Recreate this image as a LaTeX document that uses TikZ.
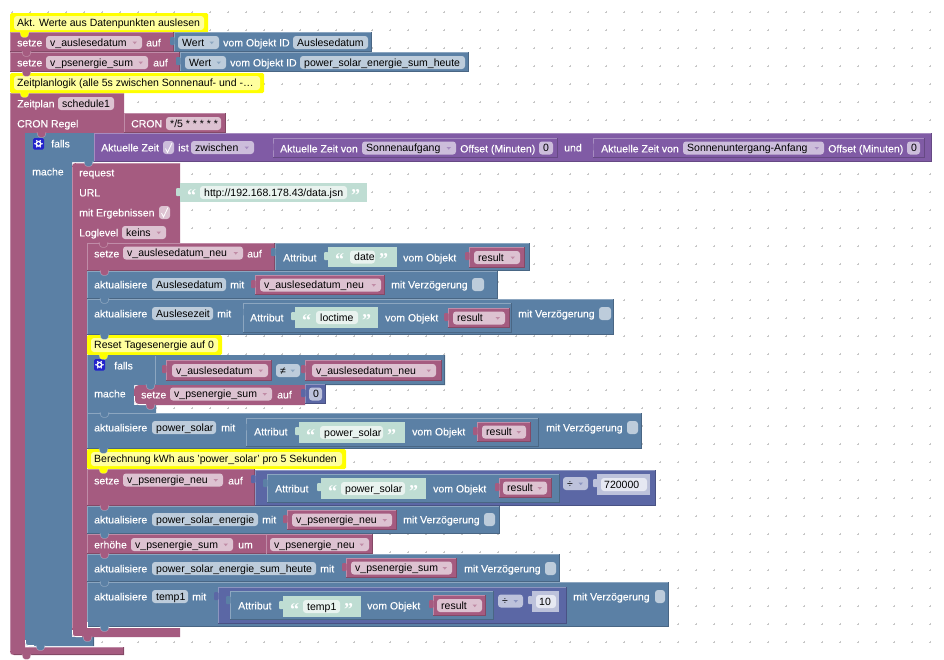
\documentclass[tikz,border=0pt]{standalone}
\usepackage{fontspec}
\setmainfont{Liberation Sans}
\newfontfamily\quotefont{Liberation Serif}
\newfontfamily\labelfont[FakeBold=0.12]{Liberation Sans}
% block families: M body, L light edge, D dark edge, F field
\definecolor{pkM}{HTML}{A55B80}\definecolor{pkL}{HTML}{C08CA8}\definecolor{pkD}{HTML}{844966}\definecolor{pkF}{HTML}{DDC2D1}
\definecolor{blM}{HTML}{5B80A5}\definecolor{blL}{HTML}{8CA6C0}\definecolor{blD}{HTML}{496684}\definecolor{blF}{HTML}{BDCCDB}
\definecolor{puM}{HTML}{805BA5}\definecolor{puL}{HTML}{A68CC0}\definecolor{puD}{HTML}{664984}\definecolor{puF}{HTML}{CCBDDB}
\definecolor{maM}{HTML}{5B67A5}\definecolor{maL}{HTML}{8C95C0}\definecolor{maD}{HTML}{495284}\definecolor{maF}{HTML}{BDC2DB}
\definecolor{mxF}{HTML}{E6E8F2}\definecolor{mxM}{HTML}{5B67A5}
\definecolor{teM}{HTML}{BFDDD3}\definecolor{teF}{HTML}{E9F3EF}
\definecolor{cmY}{HTML}{FFFF00}\definecolor{cmI}{HTML}{FFFF9E}
\definecolor{gearB}{HTML}{2222CC}
\tikzset{
  whitetext/.style={anchor=base west,inner sep=0pt,text=white,font=\labelfont\fontsize{10.5}{12}\selectfont},
  blacktext/.style={anchor=base west,inner sep=0pt,text=black,font=\fontsize{10.5}{12}\selectfont},
  quotemark/.style={anchor=base west,inner sep=0pt,text=white,font=\quotefont\bfseries\fontsize{18}{18}\selectfont}
}
% rectangular block with light top and left edges, dark right and bottom edges
\newcommand\bk[5]{%
  \fill[#5M] (#1,#2) rectangle (#3,#4);
  \draw[#5L,line width=.8pt] (#1+.4,#4) -- (#1+.4,#2+.4) -- (#3,#2+.4);
  \draw[#5D,line width=.8pt] (#3-.4,#2+.4) -- (#3-.4,#4-.4) -- (#1,#4-.4);}
% value block with a connection tab on its left side
\newcommand\vk[5]{%
  \bk{#1}{#2}{#3}{#4}{#5}%
  \fill[#5M,rounded corners=1pt] (#1+.5,#2+5) -- (#1-4,#2+5) -- (#1-4,#2+13) -- (#1+.5,#2+13) -- cycle;}
% number block: a pale shadow block around its field
\newcommand\nk[5]{%
  \fill[maF] (#1,#2) rectangle (#3,#4);
  \fill[maF,rounded corners=1pt] (#1+.5,#2+5) -- (#1-4,#2+5) -- (#1-4,#2+13) -- (#1+.5,#2+13) -- cycle;
  \fill[mxF,rounded corners=3pt] (#1+4,#2/2+#4/2-6.5) rectangle (#3-3,#2/2+#4/2+6.5);
  \node[blacktext] at (#1+7,#2/2+#4/2+3.8) {#5};}
% notch tab hanging from the bottom edge of a statement block
\newcommand\nt[3]{%
  \fill[#3] (#1,#2-.8) -- (#1+1,#2+3) -- (#1+3,#2+4.4) -- (#1+6,#2+4.4) -- (#1+8,#2+3) -- (#1+9,#2-.8) -- cycle;
  \draw[white,opacity=.3,line width=.6pt] (#1,#2-.8) -- (#1+1,#2+3) -- (#1+3,#2+4.4) -- (#1+6,#2+4.4) -- (#1+8,#2+3) -- (#1+9,#2-.8);}
\newcommand\wt[3]{\node[whitetext] at (#1,#2+4.4) {#3};}
% plain field
\newcommand\fd[5]{%
  \fill[#4F,rounded corners=3pt] (#1,#3-6.5) rectangle (#2,#3+6.5);
  \node[blacktext] at (#1+4,#3+3.8) {#5};}
% dropdown field with its small triangle
\newcommand\dd[5]{%
  \fd{#1}{#2}{#3}{#4}{#5}%
  \fill[#4M!70!white] (#2-9.5,#3-1) -- (#2-5,#3-1) -- (#2-7.25,#3+1.6) -- cycle;}
% checkbox field
\newcommand\cb[4]{\fill[#4F,rounded corners=3pt] (#1,#3-6.5) rectangle (#2,#3+6.5);}
\newcommand\ck[3]{\draw[white,line width=.8pt] (#1-3,#2+.5) -- (#1-1,#2+4.5) -- (#1+3.5,#2-5);}
% variable reference block
\newcommand\vr[7]{%
  \vk{#1}{#2}{#3}{#4}{pk}\dd{#5}{#6}{#2/2+#4/2}{pk}{#7}}
% text block with quotation marks
\newcommand\st[7]{%
  \fill[teM] (#1,#2) rectangle (#3,#4);
  \fill[teM,rounded corners=1pt] (#1+.5,#2+5) -- (#1-4,#2+5) -- (#1-4,#2+13) -- (#1+.5,#2+13) -- cycle;
  \fill[teF,rounded corners=3pt] (#5,#2/2+#4/2-6.5) rectangle (#6,#2/2+#4/2+6.5);
  \node[blacktext] at (#5+4,#2/2+#4/2+3.8) {#7};
  \node[quotemark] at (#1+7,#2/2+#4/2+8.5) {“};
  \node[quotemark] at (#6+4,#2/2+#4/2+8.5) {”};}
% comment bar
\newcommand\cm[5]{%
  \fill[cmY,rounded corners=1.5pt] (#1,#2) rectangle (#3,#4);
  \fill[cmI,rounded corners=3pt] (#1+4,#2+3) rectangle (#3-4,#4-3);
  \node[blacktext] at (#1+7,#2/2+#4/2+3.8) {#5};}
% mutator icon of a conditional block
\newcommand\gearicon[2]{%
  \fill[gearB,rounded corners=1.5pt] (#1,#2) rectangle (#1+11,#2+11.5);
  \foreach \a in {0,60,...,300}{\fill[white] (#1+5.5,#2+5.75) ++(\a:3.4pt) circle (.9pt);}
  \fill[white] (#1+5.5,#2+5.75) circle (3pt);
  \fill[gearB] (#1+5.5,#2+5.75) circle (1.7pt);}
\begin{document}
\begin{tikzpicture}[x=1pt,y=-1pt]
\useasboundingbox (0,0) rectangle (944,659);
\fill[white] (0,0) rectangle (944,659);

% workspace grid
\foreach \i in {0,...,51}{\foreach \j in {0,...,35}{%
  \draw[black!22,line width=.45pt] (12+18*\i-1.2,12+18*\j) -- ++(2.4,0) (12+18*\i,12+18*\j-1.2) -- ++(0,2.4);}}

% outer schedule block with its statement spine
\fill[pkM] (10,93) -- (124,93) -- (124,133) -- (25,133) -- (25,647) -- (124,647) -- (124,655)
  -- (14,655) .. controls (11,655) and (10,654) .. (10,651) -- cycle;
\draw[pkL,line width=.8pt] (10.4,651) -- (10.4,93.4) -- (124,93.4);
\draw[pkL,line width=.8pt] (25,647.4) -- (124,647.4);
\draw[pkD,line width=.8pt] (14,654.6) -- (123.6,654.6) -- (123.6,647);
\wt{17}{103}{Zeitplan}
\fd{58}{114}{103.5}{pk}{schedule1}
\wt{17}{123}{CRON Regel}
\bk{124}{113}{226}{133}{pk}
\wt{131}{123}{CRON}
\fd{166}{221}{123.5}{pk}{*/5 * * * * *}

% conditional on the current time
\fill[blM] (25,133) -- (94,133) -- (94,162) -- (72,162) -- (72,637) -- (94,637) -- (94,646)
  -- (29,646) .. controls (26,646) and (25,645) .. (25,642) -- cycle;
\draw[white,line width=.8pt] (25.4,640) -- (25.4,642) .. controls (25.4,645) and (26,645.6) .. (29,645.6) -- (34,645.6);
\draw[blD,line width=.8pt] (93.6,637) -- (93.6,646);
\gearicon{33}{138}
\wt{51}{143}{falls}
\wt{32}{171}{mache}
\bk{94}{133}{932}{162}{pu}
\wt{101}{147}{Aktuelle Zeit}
\fill[puF,rounded corners=3pt] (163,141) rectangle (174,154);
\ck{168.5}{148}{pu}
\wt{178}{147}{ist}
\dd{191}{254}{147.5}{pu}{zwischen}
\vk{273}{138}{558}{158}{pu}
\wt{280}{148}{Aktuelle Zeit von}
\dd{362}{456}{148}{pu}{Sonnenaufgang}
\wt{460}{148}{Offset (Minuten)}
\fd{539}{553}{148}{pu}{0}
\wt{564}{147}{und}
\vk{593}{138}{925}{158}{pu}
\wt{601}{148}{Aktuelle Zeit von}
\dd{683}{824}{148}{pu}{Sonnenuntergang-Anfang}
\wt{828}{148}{Offset (Minuten)}
\fd{907}{920}{148}{pu}{0}

% HTTP request block
\fill[pkM] (76,163) -- (180,163) -- (180,243) -- (87,243) -- (87,628) -- (180,628) -- (180,637)
  -- (76,637) .. controls (73,637) and (72,636) .. (72,633) -- (72,167) .. controls (72,164) and (73,163) .. (76,163) -- cycle;
\draw[pkL,line width=.8pt] (72.4,167) -- (72.4,628);
\draw[pkL,line width=.8pt] (76,163.4) -- (180,163.4);
\draw[white,line width=.8pt] (72.4,630) -- (72.4,633) .. controls (72.4,636) and (73,636.6) .. (76,636.6) -- (82,636.6);
\wt{79}{172}{request}
\wt{79}{192}{URL}
\wt{79}{212}{mit Ergebnissen}
\fill[pkF,rounded corners=3pt] (159,206) rectangle (170,219);
\ck{164.5}{212.5}{pk}
\wt{79}{232}{Loglevel}
\dd{122}{166}{232.5}{pk}{keins}
\st{180}{183}{367}{202}{200}{347}{http://192.168.178.43/data.jsn}

% new read-out date
\bk{87}{243}{275}{271}{pk}
\wt{94}{253}{setze}
\dd{123}{243}{253}{pk}{v\_auslesedatum\_neu}
\wt{247}{253}{auf}
\vk{275}{243}{530}{271}{bl}
\wt{283}{257}{Attribut}
\st{328}{247}{397}{267}{350}{375}{date}
\wt{403}{257}{vom Objekt}
\vr{469}{247}{525}{268}{474}{520}{result}

% update read-out date
\bk{87}{271}{498}{299}{bl}
\wt{94}{284}{aktualisiere}
\fd{152}{226}{284.5}{bl}{Auslesedatum}
\wt{230}{284}{mit}
\vr{255}{275}{385}{295}{260}{381}{v\_auslesedatum\_neu}
\wt{391}{284}{mit Verzögerung}
\cb{472}{484}{284.5}{bl}

% update read-out time
\bk{87}{299}{614}{335}{bl}
\wt{94}{313}{aktualisiere}
\fd{152}{213}{313.5}{bl}{Auslesezeit}
\wt{217}{313}{mit}
\vk{243}{303}{512}{333}{bl}
\wt{250}{317}{Attribut}
\st{295}{307}{378}{328}{316}{358}{loctime}
\wt{385}{317}{vom Objekt}
\vr{448}{308}{510}{328}{453}{505}{result}
\wt{518}{313}{mit Verzögerung}
\cb{599}{611}{313.5}{bl}

\cm{87}{335}{222}{355}{Reset Tagesenergie auf 0}

% daily energy reset
\fill[blM] (87,355) -- (445,355) -- (445,385) -- (134,385) -- (134,405) -- (156,405) -- (156,413) -- (87,413) -- cycle;
\draw[blL,line width=.8pt] (87.4,355) -- (87.4,413);
\draw[blD,line width=.8pt] (444.6,355) -- (444.6,384.6) -- (326,384.6);
\gearicon{94}{359}
\wt{114}{365}{falls}
\wt{94}{393}{mache}
\draw[blL,line width=.6pt] (155.5,356) -- (155.5,384);
\vr{166}{360}{272}{381}{172}{268}{v\_auslesedatum}
\fill[blF,rounded corners=3pt] (276,364) rectangle (300,377);
\node[blacktext] at (280,374.3) {≠};
\fill[blM!70!white] (290.5,369.5) -- (295,369.5) -- (292.75,372.1) -- cycle;
\vr{305}{360}{442}{381}{312}{436}{v\_auslesedatum\_neu}
\fill[pkM] (139,385) -- (305,385) -- (305,405) -- (139,405) .. controls (136,405) and (134,403) .. (134,400)
  -- (134,390) .. controls (134,387) and (136,385) .. (139,385) -- cycle;
\draw[white,line width=.8pt] (134.4,396) -- (134.4,400) .. controls (134.4,403) and (136,404.6) .. (139,404.6) -- (146,404.6);
\wt{141}{394}{setze}
\dd{170}{272}{394}{pk}{v\_psenergie\_sum}
\wt{277}{394}{auf}
\vk{305}{384}{326}{404}{ma}
\fd{309}{322}{394}{ma}{0}

% update power reading
\bk{87}{413}{642}{449}{bl}
\wt{94}{427}{aktualisiere}
\fd{152}{216}{427.5}{bl}{power\_solar}
\wt{221}{427}{mit}
\vk{246}{418}{539}{447}{bl}
\wt{254}{431}{Attribut}
\st{299}{422}{405}{443}{320}{383}{power\_solar}
\wt{412}{431}{vom Objekt}
\vr{477}{422}{531}{442}{482}{526}{result}
\wt{546}{427}{mit Verzögerung}
\cb{627}{638}{427.5}{bl}

\cm{87}{449}{346}{469}{Berechnung kWh aus 'power\_solar' pro 5 Sekunden}

% energy per interval
\bk{87}{469}{255}{506}{pk}
\wt{94}{480}{setze}
\dd{123}{223}{480}{pk}{v\_psenergie\_neu}
\wt{228}{480}{auf}
\vk{255}{470}{656}{506}{ma}
\vk{267}{474}{560}{503}{bl}
\wt{275}{488}{Attribut}
\st{321}{478}{426}{499}{341}{405}{power\_solar}
\wt{433}{488}{vom Objekt}
\vr{499}{478}{552}{498}{503}{547}{result}
\dd{563}{588}{483.5}{ma}{÷}
\nk{597}{474}{650}{495}{720000}

\bk{87}{506}{500}{534}{bl}
\wt{94}{519}{aktualisiere}
\fd{152}{258}{519.5}{bl}{power\_solar\_energie}
\wt{262}{519}{mit}
\vr{287}{510}{397}{530}{292}{392}{v\_psenergie\_neu}
\wt{403}{519}{mit Verzögerung}
\cb{484}{495}{519.5}{bl}

\bk{87}{534}{373}{554}{pk}
\wt{94}{544}{erhöhe}
\dd{131}{233}{544.5}{pk}{v\_psenergie\_sum}
\wt{238}{544}{um}
\draw[pkL,line width=.6pt] (266,534) -- (266,554);
\dd{270}{369}{544.5}{pk}{v\_psenergie\_neu}

\bk{87}{554}{560}{582}{bl}
\wt{94}{568}{aktualisiere}
\fd{152}{316}{568.5}{bl}{power\_solar\_energie\_sum\_heute}
\wt{320}{568}{mit}
\vr{346}{558}{457}{578}{351}{452}{v\_psenergie\_sum}
\wt{464}{568}{mit Verzögerung}
\cb{545}{556}{568.5}{bl}

% temperature update
\bk{87}{582}{669}{627}{bl}
\draw[white,line width=.8pt] (87.4,622) -- (87.4,627) -- (92,627);
\wt{94}{596}{aktualisiere}
\fd{152}{188}{596.5}{bl}{temp1}
\wt{192}{596}{mit}
\vk{218}{587}{567}{624}{ma}
\vk{230}{591}{494}{620}{bl}
\wt{238}{605}{Attribut}
\st{283}{596}{361}{617}{303}{340}{temp1}
\wt{367}{605}{vom Objekt}
\vr{433}{595}{486}{616}{437}{482}{result}
\dd{498}{523}{601}{ma}{÷}
\nk{532}{591}{559}{612}{10}
\wt{573}{596}{mit Verzögerung}
\cb{655}{665}{596.5}{bl}

% notch tabs between stacked statements
\nt{37}{133}{pkM}
\nt{84}{162}{blM}
\nt{99}{243}{pkM}
\nt{100}{271}{pkM}
\nt{100}{299}{blM}
\nt{100}{335}{blM}
\nt{99}{355}{cmY}
\nt{146}{385}{blM}
\nt{146}{405}{pkM}
\nt{100}{413}{blM}
\nt{99}{449}{blM}
\nt{99}{469}{cmY}
\nt{100}{506}{pkM}
\nt{100}{534}{blM}
\nt{100}{554}{pkM}
\nt{100}{582}{blM}
\nt{100}{627}{blM}
\nt{83}{637}{pkM}
\nt{36}{646}{blM}
\nt{22}{655}{pkM}

% top-level statements
\cm{10}{13}{208}{33}{Akt. Werte aus Datenpunkten auslesen}
\bk{10}{32}{174}{52}{pk}
\nt{20}{33}{cmY}
\wt{17}{42}{setze}
\dd{46}{142}{42.5}{pk}{v\_auslesedatum}
\wt{146}{42}{auf}
\vk{174}{32}{372}{52}{bl}
\dd{178}{219}{42.5}{bl}{Wert}
\wt{223}{42}{vom Objekt ID}
\fd{293}{368}{42.5}{bl}{Auslesedatum}
\bk{10}{52}{180}{72}{pk}
\nt{22}{52}{pkM}
\wt{17}{62}{setze}
\dd{46}{148}{62.5}{pk}{v\_psenergie\_sum}
\wt{153}{62}{auf}
\vk{180}{52}{469}{72}{bl}
\dd{185}{226}{62.5}{bl}{Wert}
\wt{230}{62}{vom Objekt ID}
\fd{300}{465}{62.5}{bl}{power\_solar\_energie\_sum\_heute}
\cm{10}{73}{264}{93}{Zeitplanlogik (alle 5s zwischen Sonnenauf- und -…}
\nt{22}{72}{pkM}
\nt{20}{93}{cmY}
\end{tikzpicture}
\end{document}
